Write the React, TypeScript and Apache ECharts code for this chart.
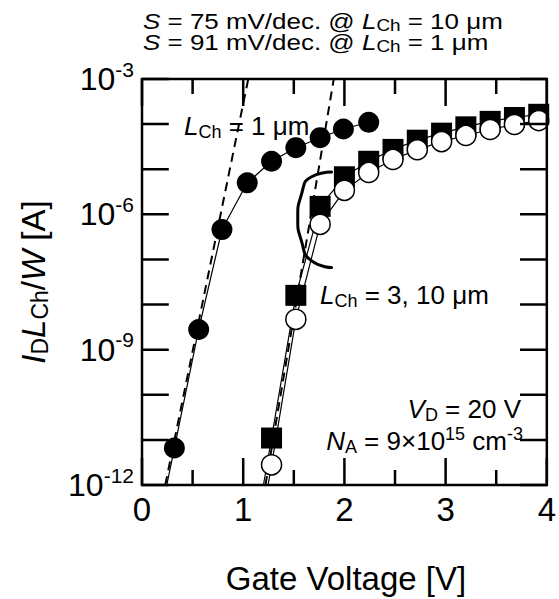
import React, { useEffect, useRef } from 'react';
import * as echarts from 'echarts';

const FONT = '"Liberation Sans", Arial, Helvetica, sans-serif';

// Gate voltage [V] and normalized drain current I_D*L_Ch/W [A]
const vgL1 = [0.32, 0.56, 0.79, 1.04, 1.28, 1.52, 1.76, 1.99, 2.24];
const idL1 = [6.6e-12, 2.8e-9, 4.6e-7, 5.0e-6, 1.5e-5, 3.0e-5, 5.0e-5, 7.8e-5, 1.1e-4];

const vgLong = [1.28, 1.52, 1.76, 2.0, 2.24, 2.48, 2.72, 2.96, 3.2, 3.44, 3.68, 3.92];
const idL3 = [1.1e-11, 1.6e-8, 1.5e-6, 6.8e-6, 1.5e-5, 2.75e-5, 4.4e-5, 6.3e-5, 8.7e-5, 1.15e-4, 1.4e-4, 1.65e-4];
const idL10 = [2.8e-12, 4.7e-9, 6.0e-7, 3.4e-6, 8.5e-6, 1.65e-5, 2.7e-5, 4.1e-5, 5.6e-5, 7.6e-5, 9.8e-5, 1.2e-4];

// where each measured curve's line meets the bottom of the frame
const tailL1: [number, number] = [0.245, 1e-12];
const tailL3: [number, number] = [1.2, 1e-12];
const tailL10: [number, number] = [1.246, 1e-12];

// subthreshold-slope fit lines (S = 91 mV/dec, 75 mV/dec)
const fitL1: [number, number][] = [[0.23, 1e-12], [1.05, 1e-3]];
const fitL10: [number, number][] = [[1.22, 1e-12], [1.895, 1e-3]];

// bracket grouping the L = 3 and 10 um curves
const bracketV = [1.873, 1.676, 1.578, 1.539, 1.578, 1.676, 1.873];
const bracketI = [8.7e-6, 6.8e-6, 2.9e-6, 8.3e-7, 2.45e-7, 9.3e-8, 6.6e-8];

// axis ranges and tick values
const xMin = 0, xMax = 4;
const yMin = 1e-12, yMax = 1e-3;
const xMajorTicks = [0, 1, 2, 3, 4];
const xMinorTicks = [0.5, 1.5, 2.5, 3.5];
const yDecadeTicks = [1e-12, 1e-11, 1e-10, 1e-9, 1e-8, 1e-7, 1e-6, 1e-5, 1e-4, 1e-3];

const W = 559, H = 599;
const GRID = { left: 142, right: 9, top: 79, bottom: 114 };

const zip = (xs: number[], ys: number[]) => xs.map((x, i) => [x, ys[i]]);

const annRich = {
  n: { fontFamily: FONT, fontSize: 26, color: '#000', verticalAlign: 'middle' },
  i: { fontFamily: FONT, fontSize: 26, fontStyle: 'italic', color: '#000', verticalAlign: 'middle' },
  sub: { fontFamily: FONT, fontSize: 18, color: '#000', padding: [12, 0, 0, 0], verticalAlign: 'middle' },
  sup: { fontFamily: FONT, fontSize: 18, color: '#000', padding: [0, 0, 14, 0], verticalAlign: 'middle' },
};
const titleRich = {
  n: { fontFamily: FONT, fontSize: 22, color: '#000', verticalAlign: 'middle' },
  i: { fontFamily: FONT, fontSize: 22, fontStyle: 'italic', color: '#000', verticalAlign: 'middle' },
  sub: { fontFamily: FONT, fontSize: 16, color: '#000', padding: [10, 0, 0, 0], verticalAlign: 'middle' },
};
const axisTitleRich = {
  n: { fontFamily: FONT, fontSize: 33, color: '#000', verticalAlign: 'middle' },
  i: { fontFamily: FONT, fontSize: 33, fontStyle: 'italic', color: '#000', verticalAlign: 'middle' },
  sub: { fontFamily: FONT, fontSize: 23, color: '#000', padding: [14, 0, 0, 0], verticalAlign: 'middle' },
};

export default function App() {
  const ref = useRef<HTMLDivElement>(null);
  useEffect(() => {
    const chart = echarts.init(ref.current!, undefined, { renderer: 'svg' });

    // tick lengths in pixels, turned into data-space spans through the grid's scale
    const pxPerVolt = (W - GRID.left - GRID.right) / (xMax - xMin);
    const pxPerDecade = (H - GRID.top - GRID.bottom) / (Math.log10(yMax) - Math.log10(yMin));
    const up = (v: number, px: number) => v * Math.pow(10, px / pxPerDecade);
    const down = (v: number, px: number) => v / Math.pow(10, px / pxPerDecade);
    const dv = (px: number) => px / pxPerVolt;
    const tickData: any[] = [];
    const addSeg = (a: number[], b: number[]) => { tickData.push(a, b, null); };
    xMajorTicks.forEach((v) => { addSeg([v, yMin], [v, up(yMin, 27)]); addSeg([v, yMax], [v, down(yMax, 27)]); });
    xMinorTicks.forEach((v) => { addSeg([v, yMin], [v, up(yMin, 15)]); addSeg([v, yMax], [v, down(yMax, 15)]); });
    yDecadeTicks.forEach((y) => { addSeg([xMin, y], [xMin + dv(27), y]); addSeg([xMax, y], [xMax - dv(27), y]); });

    const lineSeries = (name: string, tail: [number, number], xs: number[], ys: number[], symbol: string, size: number, itemStyle: any, z: number) => ({
      name, type: 'line', symbol, symbolSize: size, z, clip: false,
      data: [{ value: tail, symbol: 'none' }, ...zip(xs, ys)],
      lineStyle: { color: '#000', width: 1.2 },
      itemStyle,
    });
    chart.setOption({
      animation: false,
      grid: { ...GRID },
      xAxis: {
        type: 'value', min: xMin, max: xMax, interval: 1,
        axisLine: { show: false }, axisTick: { show: false }, splitLine: { show: false },
        axisLabel: { show: true, fontFamily: FONT, fontSize: 33, color: '#000', margin: 8 },
      },
      yAxis: {
        type: 'log', logBase: 10, min: yMin, max: yMax, splitNumber: 9,
        axisLine: { show: false }, axisTick: { show: false }, splitLine: { show: false },
        axisLabel: {
          show: true, margin: 8,
          formatter: (v: number) => {
            const e = Math.round(Math.log10(v));
            return e % 3 === 0 ? `{b|10}{s|${e}}` : '';
          },
          rich: {
            b: { fontFamily: FONT, fontSize: 32, color: '#000' },
            s: { fontFamily: FONT, fontSize: 21, color: '#000', padding: [0, 0, 20, 0] },
          },
        },
      },
      series: [
        { name: 'fit 1um', type: 'line', data: fitL1, symbol: 'none', z: 2, lineStyle: { color: '#000', width: 2, type: [9, 6] } },
        { name: 'fit 10um', type: 'line', data: fitL10, symbol: 'none', z: 2, lineStyle: { color: '#000', width: 2, type: [9, 6] } },
        lineSeries('L 1um', tailL1, vgL1, idL1, 'circle', 21, { color: '#000' }, 3),
        lineSeries('L 3um', tailL3, vgLong, idL3, 'rect', 21, { color: '#000' }, 4),
        lineSeries('L 10um', tailL10, vgLong, idL10, 'circle', 20, { color: '#fff', borderColor: '#000', borderWidth: 1.5 }, 5),
        { name: 'bracket', type: 'line', data: zip(bracketV, bracketI), symbol: 'none', smooth: 0.6, z: 6, clip: false,
          lineStyle: { color: '#000', width: 3, cap: 'round' } },
        { name: 'frame', type: 'line', symbol: 'none', z: 7, clip: false, silent: true,
          data: [[xMin, yMin], [xMax, yMin], [xMax, yMax], [xMin, yMax], [xMin, yMin]],
          lineStyle: { color: '#000', width: 2.5, join: 'miter', cap: 'square' } },
        { name: 'ticks', type: 'line', symbol: 'none', z: 7, clip: false, silent: true, connectNulls: false,
          data: tickData, lineStyle: { color: '#000', width: 2.5 } },
      ],
    });

    const text = (x: number, y: number, t: string, rich: any, align = 'left', extra: any = {}) => ({
      type: 'text', x, y, z: 100, ...extra,
      style: { text: t, rich, align, textAlign: align, verticalAlign: 'middle', textVerticalAlign: 'middle' },
    });
    chart.setOption({
      graphic: [
        text(143, 21, '{i|S}{n| = 75 mV/dec. @ }{i|L}{sub|Ch}{n| = 10 μm}', titleRich, 'left', { scaleX: 1.18 }),
        text(143, 42, '{i|S}{n| = 91 mV/dec. @ }{i|L}{sub|Ch}{n| = 1 μm}', titleRich, 'left', { scaleX: 1.18 }),
        text(184, 126, '{i|L}{sub|Ch}{n| = 1 μm}', annRich),
        text(320, 295, '{i|L}{sub|Ch}{n| = 3, 10 μm}', annRich),
        text(521, 409, '{i|V}{sub|D}{n| = 20 V}', annRich, 'right'),
        text(523, 441, '{i|N}{sub|A}{n| = 9×10}{sup|15}{n| cm}{sup|-3}', annRich, 'right'),
        text(346, 578, '{n|Gate Voltage [V]}', axisTitleRich, 'center'),
        text(33, 282, '{i|I}{sub|D}{i|L}{sub|Ch}{n|/}{i|W}{n| [A]}', axisTitleRich, 'center', { rotation: Math.PI / 2 }),
      ],
    });
    return () => chart.dispose();
  }, []);
  return (
    <div style={{ position: 'fixed', left: 0, top: 0, width: W, height: H, background: '#fff' }}>
      <div ref={ref} style={{ width: W, height: H }} />
    </div>
  );
}
